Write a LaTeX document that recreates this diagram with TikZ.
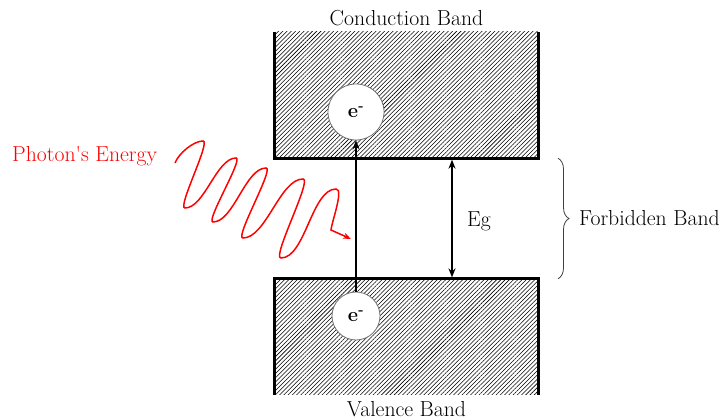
\documentclass[tikz,border=0pt]{standalone}
\usetikzlibrary{arrows.meta,positioning,calc,patterns.meta,decorations.pathreplacing}
\definecolor{rimgray}{HTML}{6F6F6F}

\begin{document}
\begin{tikzpicture}[x=1pt,y=1pt,
  lbl/.style={font=\fontsize{21.7}{26}\selectfont,inner sep=0pt},
  band/.style={minimum width=263pt,inner sep=0pt,
    pattern={Lines[angle=45,distance=3pt,line width=0.55pt]}},
  rim/.style={line width=2.8pt,line join=miter},
  elec/.style={circle,draw=rimgray,line width=0.8pt,fill=white,inner sep=0pt,
    font=\bfseries\fontsize{20}{24}\selectfont},
  arr/.style={-{Stealth[length=9pt,width=7pt]},line width=2pt},
  wave/.style={red,line width=1.5pt,-{Stealth[length=8pt,width=6pt]}},
  up/.style={out=0,in=180,looseness=0.7},
  dn/.style={out=0,in=180,looseness=0.3},
  brace/.style={decorate,decoration={brace,amplitude=11pt},
    line width=0.8pt,black!75}]
\useasboundingbox (0,0) rectangle (725,420);
% bands
\node[band,minimum height=126pt] (cb) at (406.5,325) {};
\node[band,minimum height=116pt] (vb) at (406.5,83) {};
\draw[rim] (cb.north west) -- (cb.south west) -- (cb.south east) -- (cb.north east);
\draw[rim] (vb.south west) -- (vb.north west) -- (vb.north east) -- (vb.south east);
\node[lbl,above=5.3pt of cb] (cbl) {Conduction Band};
\node[lbl,below=6.4pt of vb] (vbl) {Valence Band};
% electrons
\node[elec,minimum size=56pt] (ec) at (356,308) {e\textsuperscript{-}};
\node[elec,minimum size=48pt] (ev) at (356,104) {e\textsuperscript{-}};
\draw[arr] (ev) -- (ec);
% energy gap
\coordinate (gap) at (452,200);
\node[lbl,anchor=base west] (eg) at (467,193) {Eg};
\draw[arr,{Stealth[length=9pt,width=7pt]}-{Stealth[length=9pt,width=7pt]},
  shorten <=1.4pt,shorten >=1.4pt] (gap |- cb.south) -- (gap |- vb.north);
\coordinate (br) at (558,200);
\draw[brace] (br |- cb.south) -- (br |- vb.north);
\node[lbl,anchor=base west] (fb) at (579,194) {Forbidden Band};
% photon
\node[lbl,red,anchor=base west] (ph) at (12,258) {Photon\textquotesingle s Energy};
\draw[wave] (175,257) to[out=70,in=180,looseness=0.7] (203,279) to[dn] (185,212)
  to[up] (236,262) to[dn] (213,198)
  to[up] (266,252) to[dn] (243,182)
  to[up] (303,241) to[dn] (281,162)
  to[up] (336,231) to[out=0,in=85,looseness=0.5] (331,190) -- (351,181);
\end{tikzpicture}
\end{document}
